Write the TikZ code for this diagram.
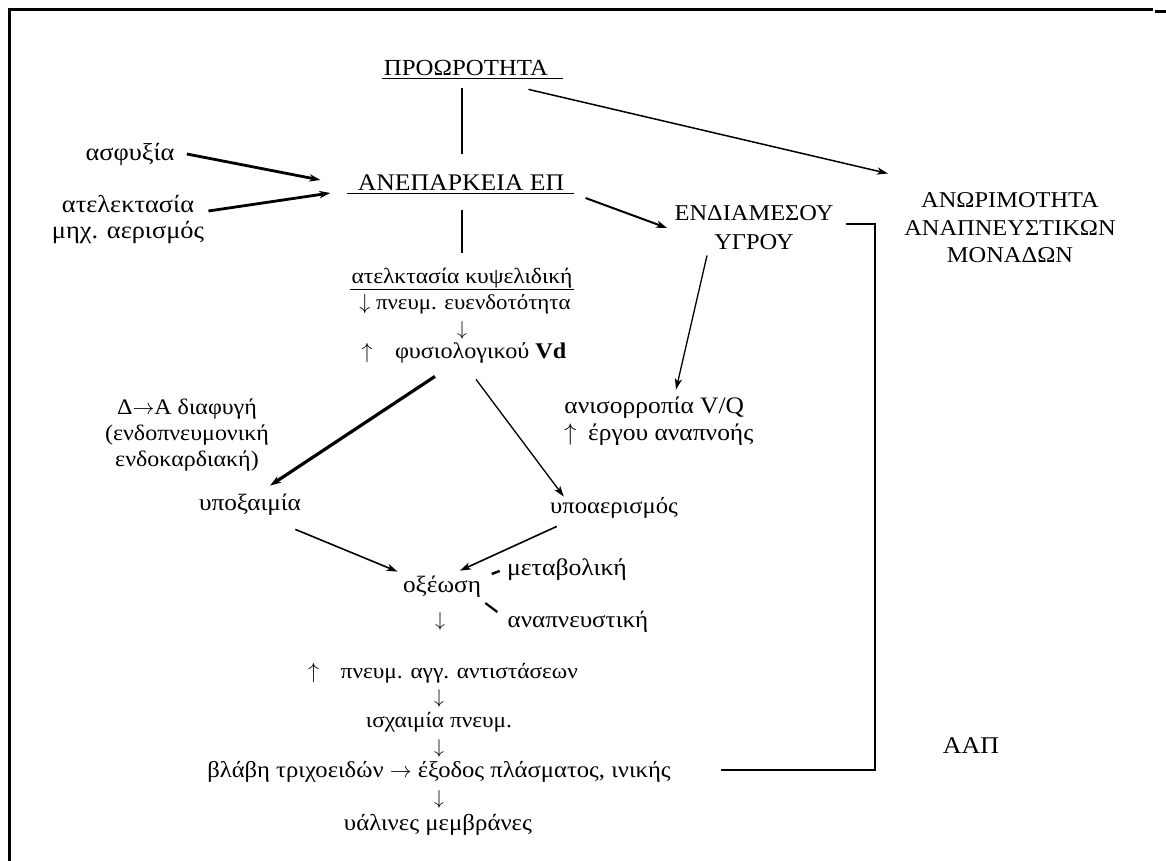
\documentclass[tikz,border=0pt]{standalone}
\usepackage{fontspec}
\setmainfont{Liberation Serif}[FakeStretch=1.08]
\usetikzlibrary{arrows.meta,calc}
\newcommand\fsz[2]{\fontsize{#1}{#2}\selectfont}
\begin{document}
\begin{tikzpicture}[x=0.5pt,y=-0.5pt,
  lbl/.style={inner sep=0pt, font=\fsz{11.5pt}{13pt}, text height=7.8pt, text depth=2.2pt},
  darr/.style={inner sep=0pt, font=\fsz{10pt}{12pt}},
  blk/.style={inner sep=0pt, align=center},
  arr/.style={-{Stealth[length=5.5pt,width=3.6pt,inset=1.5pt]}},
  thinline/.style={line width=0.65pt},
  medline/.style={line width=1pt},
  thickline/.style={line width=1.4pt},
  uline/.style={line width=0.75pt},
  frame/.style={line width=1.5pt}]
\useasboundingbox (0,0) rectangle (1166,861);
% frame
\draw[frame] (9,861) -- (9,10) -- (1153,10);
\draw[frame] (1155,12) -- (1166,12);

% nodes
\node[lbl, font=\fsz{11.5pt}{13pt}] (pro) at (466,70) {ΠΡΟΩΡΟΤΗΤΑ};
\node[lbl, font=\fsz{11.9pt}{13pt}] (ane) at (461,185) {ΑΝΕΠΑΡΚΕΙΑ ΕΠ};
\node[lbl, font=\fsz{12.2pt}{13pt}] (asf) at (130,155) {ασφυξία};
\node[blk, font=\fsz{12.2pt}{13pt}] (atel) at (128,220) {ατελεκτασία\\μηχ. αερισμός};
\node[blk, font=\fsz{11.3pt}{14.5pt}] (endi) at (754,228) {ΕΝΔΙΑΜΕΣΟΥ\\ΥΓΡΟΥ};
\node[blk, font=\fsz{11.3pt}{13.75pt}] (anor) at (1010,228) {ΑΝΩΡΙΜΟΤΗΤΑ\\ΑΝΑΠΝΕΥΣΤΙΚΩΝ\\ΜΟΝΑΔΩΝ};
\node[lbl, font=\fsz{12pt}{13pt}] (aap) at (971,748) {ΑΑΠ};
\node[lbl, font=\fsz{10.9pt}{13pt}] (kyps) at (462,278) {ατελκτασία κυψελιδική};
\node[lbl, font=\fsz{10.6pt}{13pt}] (pneum) at (465,304) {$\downarrow$ πνευμ. ευενδοτότητα};
\node[darr] (d1) at (462,330) {$\downarrow$};
\node[lbl, font=\fsz{11.2pt}{13pt}] (fys) at (464,353) {$\uparrow$\quad φυσιολογικού \textbf{Vd}};
\node[blk, font=\fsz{11.1pt}{13pt}] (diaf) at (187,435) {Δ$\rightarrow$Α διαφυγή\\(ενδοπνευμονική\\ενδοκαρδιακή)};
\node[lbl, font=\fsz{11.7pt}{13pt}] (ypox) at (250,505) {υποξαιμία};
\node[lbl, font=\fsz{11.4pt}{13pt}] (ypoa) at (614,508) {υποαερισμός};
\node[blk, align=left, anchor=west, font=\fsz{11.8pt}{13.2pt}] (anis) at (564,421) {ανισορροπία V/Q\\$\uparrow$\enspace έργου αναπνοής};
\node[lbl, font=\fsz{11.7pt}{13pt}] (oxe) at (442,587) {οξέωση};
\node[lbl, font=\fsz{11.9pt}{13pt}] (meta) at (567,570) {μεταβολική};
\node[lbl, font=\fsz{11.6pt}{13pt}] (anap) at (578,622) {αναπνευστική};
\node[darr] (d2) at (440,621) {$\downarrow$};
\node[lbl, font=\fsz{10.8pt}{13pt}] (pag) at (443,673) {$\uparrow$\quad πνευμ. αγγ. αντιστάσεων};
\node[darr] (d3) at (439,698) {$\downarrow$};
\node[lbl, font=\fsz{10.8pt}{13pt}] (isx) at (439,722) {ισχαιμία πνευμ.};
\node[darr] (d4) at (439,748) {$\downarrow$};
\node[lbl, font=\fsz{11.4pt}{13pt}] (vla) at (439,772) {βλάβη τριχοειδών $\rightarrow$ έξοδος πλάσματος, ινικής};
\node[darr] (d5) at (439,799) {$\downarrow$};
\node[lbl, font=\fsz{11.5pt}{13pt}] (yal) at (438,825) {υάλινες μεμβράνες};

% underlines
\draw[uline] ($(pro.south west)+(-2,-2)$) -- ($(pro.south east)+(15,-2)$);
\draw[uline] ($(ane.south west)+(-10,-2)$) -- ($(ane.south east)+(9,-2)$);
\draw[uline] ($(kyps.south west)+(-1,1)$) -- ($(kyps.south east)+(1,1)$);

% connectors
\draw[thinline] ($(pro.south)+(-4,8)$) -- ($(ane.north)+(1,-21)$);
\draw[thinline, line width=0.75pt, arr] ($(pro.south east)+(-20,9)$) -- ($(anor.north west)+(-16,-19)$);
\draw[thickline, arr] ($(asf.east)+(12,-1)$) -- ($(ane.west)+(-37,-5)$);
\draw[thickline, arr] ($(atel.east)+(4,-9)$) -- ($(ane.west)+(-27,8)$);
\draw[medline, arr] ($(ane.east)+(21,13)$) -- ($(endi.west)+(-7,0)$);
\draw[thinline] ($(ane.south)+(1,15)$) -- ($(kyps.north)+(0,-15)$);
\draw[thinline, arr] ($(endi.south)+(-47,5)$) -- ($(anis.north west)+(112,-7)$);
\draw[thickline, line width=1.6pt, arr] ($(fys.south)+(-29,13)$) -- ($(ypox.north)+(20,-9)$);
\draw[thinline, arr] ($(fys.south)+(12,16)$) -- ($(ypoa.north west)+(14,-1)$);
\draw[thinline, line width=0.8pt, arr] ($(ypox.south east)+(-6,14)$) -- ($(oxe.north west)+(-5,-5)$);
\draw[thinline, line width=0.8pt, arr] ($(ypoa.south west)+(7,8)$) -- ($(oxe.north)+(18,-6)$);
\draw[line width=1.2pt] ($(meta.west)+(-15,4)$) -- ($(meta.west)+(-7,1)$);
\draw[line width=1.1pt] ($(anap.west)+(-22,-19)$) -- ($(anap.west)+(-10,-10)$);
\draw[medline] ($(endi.east)+(12,-4)$) -- ++(29,0) |- ($(vla.east)+(50,-2)$);
\end{tikzpicture}
\end{document}
